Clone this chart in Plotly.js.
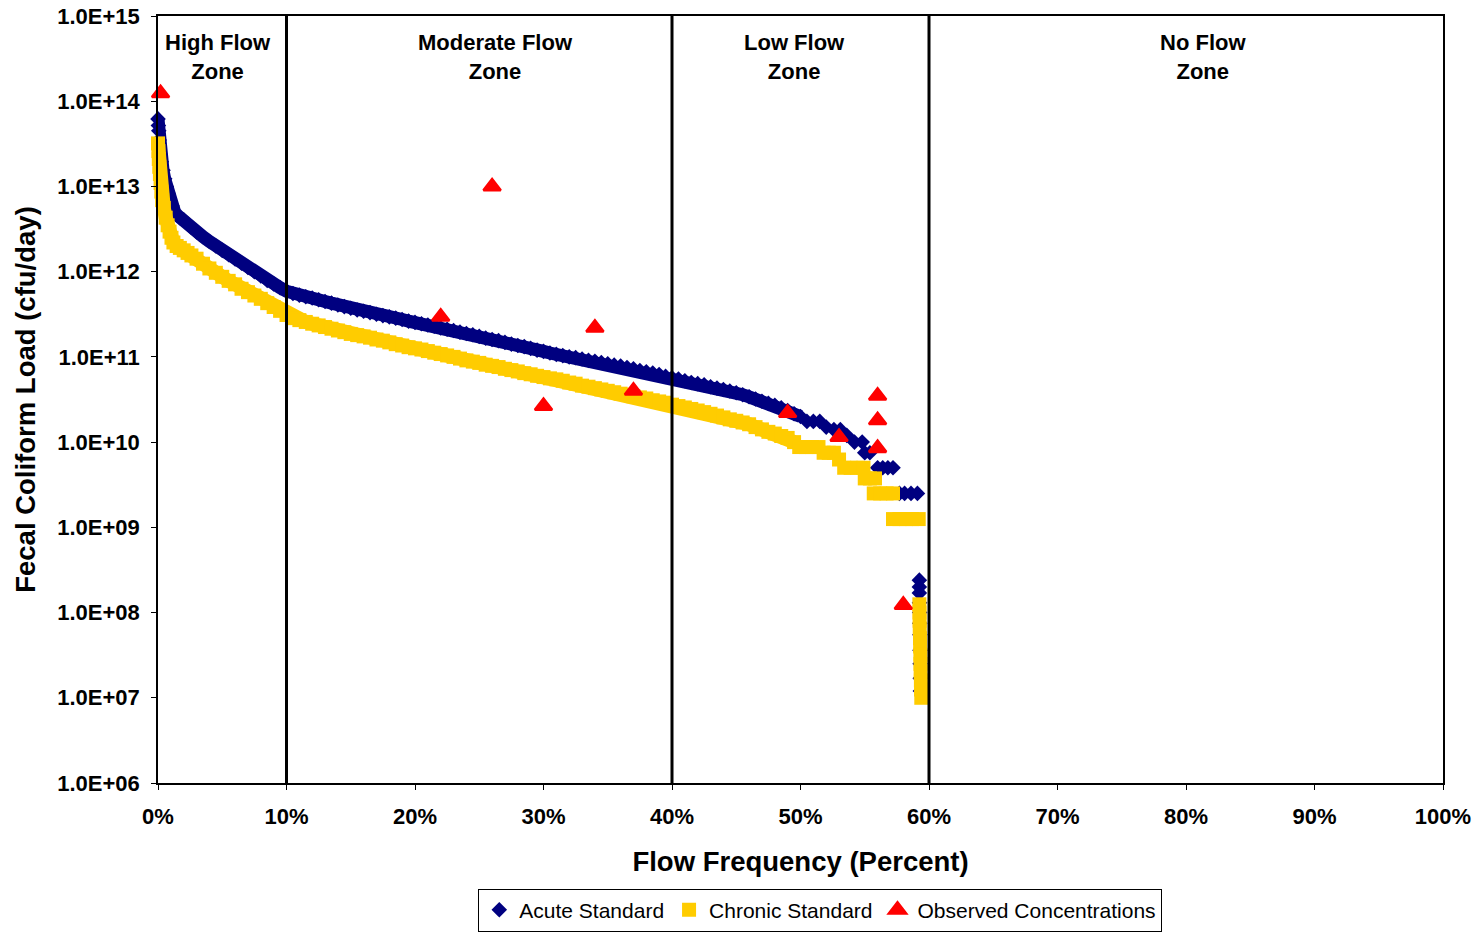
<!DOCTYPE html>
<html>
<head>
<meta charset="utf-8">
<script src="https://cdn.plot.ly/plotly-3.0.1.min.js"></script>
<style>
  html, body { margin: 0; padding: 0; background: #ffffff; }
  #chart { width: 1478px; height: 933px; }
</style>
</head>
<body>
<div id="chart"></div>
<script>
// ---- Data ----
// Flow frequency (percent) and fecal coliform load (cfu/day)
var acuteX = [0, 0.03, 0.06, 0.09, 0.13, 0.26, 0.39, 0.52, 0.65, 0.78, 0.9, 1.1, 1.3, 1.5, 1.7, 2.0, 2.3, 2.6,
  3.0, 3.5, 4.0, 4.5, 5.0, 5.5, 6.0, 6.5, 7.0, 7.5, 8.0, 8.5, 9.0, 9.5, 10.0, 10.5, 11.0, 11.5, 12.0, 12.5,
  13.0, 13.5, 14.0, 14.5, 15.0, 15.5, 16.0, 16.5, 17.0, 17.5, 18.0, 18.5, 19.0, 19.5, 20.0, 20.5, 21.0, 21.5,
  22.0, 22.5, 23.0, 23.5, 24.0, 24.5, 25.0, 25.5, 26.0, 26.5, 27.0, 27.5, 28.0, 28.5, 29.0, 29.5, 30.0, 30.5,
  31.0, 31.5, 32.0, 32.5, 33.0, 33.5, 34.0, 34.5, 35.0, 35.5, 36.0, 36.5, 37.0, 37.5, 38.0, 38.5, 39.0, 39.5,
  40.0, 40.5, 41.0, 41.5, 42.0, 42.5, 43.0, 43.5, 44.0, 44.5, 45.0, 45.5, 46.0, 46.5, 47.0, 47.5, 48.0, 48.5,
  49.0, 49.5, 50.0, 50.5, 51.0, 51.5, 52.0, 52.6, 53.1, 53.6, 54.2, 54.8, 55.0, 55.4, 56.0, 56.4, 56.8, 57.2,
  57.7, 58.1, 58.6, 59.1,
  59.25, 59.25, 59.25, 59.26, 59.27, 59.28, 59.29, 59.3, 59.31, 59.32, 59.33];
var acuteLoad = [6.2e13, 5.2e13, 4.5e13, 3.5e13, 2.45e13, 1.95e13, 1.55e13, 1.23e13, 1.0e13, 8.3e12, 6.9e12, 5.9e12, 5.0e12, 4.6e12, 4.3e12, 4.05e12, 3.65e12, 3.3e12,
  2.92e12, 2.57e12, 2.26e12, 2.0e12, 1.78e12, 1.58e12, 1.41e12, 1.26e12, 1.12e12, 1.0e12, 8.9e11, 7.9e11, 7.2e11, 6.5e11, 5.9e11, 5.55e11, 5.3e11, 5.07e11, 4.9e11, 4.68e11,
  4.47e11, 4.27e11, 4.07e11, 3.89e11, 3.72e11, 3.55e11, 3.43e11, 3.31e11, 3.16e11, 3.05e11, 2.95e11, 2.85e11, 2.75e11, 2.63e11, 2.54e11, 2.45e11, 2.37e11, 2.29e11,
  2.19e11, 2.11e11, 2.04e11, 1.95e11, 1.88e11, 1.82e11, 1.74e11, 1.66e11, 1.6e11, 1.55e11, 1.48e11, 1.41e11, 1.36e11, 1.32e11, 1.26e11, 1.2e11, 1.16e11, 1.11e11,
  1.07e11, 1.035e11, 1.0e11, 9.8e10, 9.45e10, 9.1e10, 8.9e10, 8.6e10, 8.3e10, 8.0e10, 7.8e10, 7.5e10, 7.25e10, 6.9e10, 6.7e10, 6.45e10, 6.2e10, 5.9e10,
  5.7e10, 5.5e10, 5.25e10, 5.0e10, 4.85e10, 4.7e10, 4.47e10, 4.3e10, 4.15e10, 3.98e10, 3.8e10, 3.6e10, 3.4e10, 3.2e10, 3.02e10, 2.85e10, 2.7e10, 2.52e10,
  2.35e10, 2.15e10, 2.0e10, 1.75e10, 1.75e10, 1.75e10, 1.5e10, 1.4e10, 1.4e10, 1.2e10, 1.0e10, 1.0e10, 7.5e9, 7.5e9, 5.0e9, 5.0e9, 5.0e9, 5.0e9,
  2.5e9, 2.5e9, 2.5e9, 2.5e9,
  2.4e8, 2.0e8, 1.7e8, 1.3e8, 1.0e8, 7.5e7, 5.5e7, 3.6e7, 2.5e7, 1.7e7, 1.2e7];

var chronicX = [0, 0.03, 0.06, 0.1, 0.15, 0.2, 0.26, 0.32, 0.45, 0.6, 0.75, 0.9, 1.05, 1.2, 1.45, 1.7, 2.0, 2.3, 2.6,
  3.0, 3.5, 4.0, 4.5, 5.0, 5.5, 6.0, 6.5, 7.0, 7.5, 8.0, 8.5, 9.0, 9.5, 10.0, 10.5, 11.0, 11.5, 12.0, 12.5,
  13.0, 13.5, 14.0, 14.5, 15.0, 15.5, 16.0, 16.5, 17.0, 17.5, 18.0, 18.5, 19.0, 19.5, 20.0, 20.5, 21.0, 21.5,
  22.0, 22.5, 23.0, 23.5, 24.0, 24.5, 25.0, 25.5, 26.0, 26.5, 27.0, 27.5, 28.0, 28.5, 29.0, 29.5, 30.0, 30.5,
  31.0, 31.5, 32.0, 32.5, 33.0, 33.5, 34.0, 34.5, 35.0, 35.5, 36.0, 36.5, 37.0, 37.5, 38.0, 38.5, 39.0, 39.5,
  40.0, 40.5, 41.0, 41.5, 42.0, 42.5, 43.0, 43.5, 44.0, 44.5, 45.0, 45.5, 46.0, 46.5, 47.0, 47.5, 48.0, 48.5,
  49.0, 49.5, 49.9, 50.4, 50.9, 51.4, 51.8, 52.2, 52.6, 53.0, 53.4, 53.9, 54.4, 54.9, 55.0, 55.4, 55.8,
  55.7, 56.2, 56.7, 57.2, 57.2, 57.7, 58.2, 58.7, 59.2,
  59.25, 59.26, 59.27, 59.28, 59.3, 59.31, 59.33, 59.34, 59.35, 59.37, 59.38, 59.4];
var chronicLoad = [3.2e13, 2.6e13, 2.1e13, 1.7e13, 1.4e13, 1.1e13, 8.7e12, 6.9e12, 5.6e12, 4.3e12, 3.5e12, 2.95e12, 2.5e12, 2.2e12, 2.0e12, 1.9e12, 1.78e12, 1.66e12, 1.55e12,
  1.42e12, 1.24e12, 1.09e12, 9.7e11, 8.7e11, 7.8e11, 7.1e11, 6.3e11, 5.75e11, 5.25e11, 4.8e11, 4.27e11, 3.85e11, 3.47e11, 3.1e11, 2.85e11, 2.7e11, 2.57e11, 2.45e11, 2.34e11,
  2.24e11, 2.14e11, 2.04e11, 1.95e11, 1.86e11, 1.8e11, 1.74e11, 1.68e11, 1.6e11, 1.55e11, 1.48e11, 1.41e11, 1.36e11, 1.3e11, 1.26e11, 1.22e11, 1.17e11, 1.12e11,
  1.08e11, 1.04e11, 1.0e11, 9.55e10, 9.1e10, 8.8e10, 8.5e10, 8.1e10, 7.85e10, 7.6e10, 7.25e10, 7.0e10, 6.75e10, 6.45e10, 6.25e10, 6.0e10, 5.8e10, 5.6e10,
  5.45e10, 5.25e10, 5.0e10, 4.85e10, 4.6e10, 4.47e10, 4.3e10, 4.15e10, 4.0e10, 3.85e10, 3.7e10, 3.6e10, 3.45e10, 3.35e10, 3.25e10, 3.1e10, 3.0e10, 2.9e10,
  2.75e10, 2.65e10, 2.55e10, 2.45e10, 2.35e10, 2.25e10, 2.15e10, 2.05e10, 1.95e10, 1.85e10, 1.78e10, 1.7e10, 1.62e10, 1.5e10, 1.41e10, 1.32e10, 1.26e10, 1.18e10,
  1.12e10, 1.0e10, 8.75e9, 8.75e9, 8.75e9, 8.75e9, 7.5e9, 7.5e9, 7.5e9, 6.25e9, 5.0e9, 5.0e9, 5.0e9, 5.0e9, 3.75e9, 3.75e9, 3.75e9,
  2.5e9, 2.5e9, 2.5e9, 2.5e9, 1.25e9, 1.25e9, 1.25e9, 1.25e9, 1.25e9,
  1.25e8, 1.0e8, 8.0e7, 6.5e7, 5.0e7, 4.0e7, 3.2e7, 2.5e7, 2.0e7, 1.6e7, 1.25e7, 1.0e7];

var observedX = [0.2, 22.0, 26.0, 30.0, 34.0, 37.0, 49.0, 53.0, 56.0, 56.0, 56.0, 58.0];
var observedLoad = [1.24e14, 2.95e11, 1.0e13, 2.65e10, 2.2e11, 4.0e10, 2.2e10, 1.15e10, 3.5e10, 1.8e10, 8.5e9, 1.23e8];

var seriesNames = ['Acute Standard', 'Chronic Standard', 'Observed Concentrations'];

var zoneBounds = [10, 40, 60];
var zoneLabels = ['High Flow<br>Zone', 'Moderate Flow<br>Zone', 'Low Flow<br>Zone', 'No Flow<br>Zone'];
var zoneLabelX = [4.7, 26.3, 49.5, 81.3];

var xTickVals = [0, 10, 20, 30, 40, 50, 60, 70, 80, 90, 100];
var xTickText = ['0%', '10%', '20%', '30%', '40%', '50%', '60%', '70%', '80%', '90%', '100%'];
var yTickVals = [1e6, 1e7, 1e8, 1e9, 1e10, 1e11, 1e12, 1e13, 1e14, 1e15];
var yTickText = ['1.0E+06', '1.0E+07', '1.0E+08', '1.0E+09', '1.0E+10', '1.0E+11', '1.0E+12', '1.0E+13', '1.0E+14', '1.0E+15'];

// ---- Chart ----
var FONT = '"Liberation Sans", Arial, sans-serif';
var NAVY = '#000080', GOLD = '#FFCC00', RED = '#FF0000';

// The dense marker band of the original is continuous along the smooth
// (non-stepped) part of each curve; a thick line through the same points fills it.
function smoothCount(xs, limit) {
  var n = 0;
  while (n < xs.length && xs[n] <= limit) n++;
  return n;
}
var nA = smoothCount(acuteX, 50.0);
var nC = smoothCount(chronicX, 49.5);

var traces = [
  {
    x: acuteX.slice(0, nA), y: acuteLoad.slice(0, nA), type: 'scatter', mode: 'lines',
    showlegend: false, hoverinfo: 'skip', cliponaxis: false,
    line: { color: NAVY, width: 13 }
  },
  {
    x: acuteX, y: acuteLoad, name: seriesNames[0], type: 'scatter', mode: 'markers',
    cliponaxis: false,
    marker: { symbol: 'diamond', size: 12, color: NAVY, line: { width: 0 } }
  },
  {
    x: chronicX.slice(0, nC), y: chronicLoad.slice(0, nC), type: 'scatter', mode: 'lines',
    showlegend: false, hoverinfo: 'skip', cliponaxis: false,
    line: { color: GOLD, width: 14 }
  },
  {
    x: chronicX, y: chronicLoad, name: seriesNames[1], type: 'scatter', mode: 'markers',
    cliponaxis: false,
    marker: { symbol: 'square', size: 14, color: GOLD, line: { width: 0 } }
  },
  {
    x: observedX, y: observedLoad, name: seriesNames[2], type: 'scatter', mode: 'markers',
    cliponaxis: false,
    marker: { symbol: 'triangle-up', size: 15, color: RED, line: { width: 2.5, color: RED } }
  }
];

var shapes = zoneBounds.map(function (b) {
  return { type: 'line', xref: 'x', yref: 'paper', x0: b, x1: b, y0: 0, y1: 1,
           line: { color: '#000000', width: 3 }, layer: 'above' };
});

var annotations = zoneLabels.map(function (t, i) {
  return { text: t, x: zoneLabelX[i], xref: 'x', y: 0.946, yref: 'paper',
           showarrow: false, xanchor: 'center', yanchor: 'middle',
           font: { family: FONT, size: 22, color: '#000000', weight: 'bold' } };
});

var layout = {
  width: 1478, height: 933,
  margin: { l: 158, r: 35, t: 16, b: 150, autoexpand: false },
  paper_bgcolor: '#ffffff', plot_bgcolor: '#ffffff',
  font: { family: FONT, color: '#000000' },
  showlegend: true,
  legend: {
    orientation: 'h', x: 0.555, xref: 'container', xanchor: 'center',
    y: 0.0245, yref: 'container', yanchor: 'middle',
    bordercolor: '#000000', borderwidth: 1, bgcolor: '#ffffff',
    font: { family: FONT, size: 21, color: '#000000' },
    itemwidth: 30, tracegroupgap: 0
  },
  xaxis: {
    range: [0, 100], tickvals: xTickVals, ticktext: xTickText,
    showgrid: false, zeroline: false, automargin: false,
    showline: true, linecolor: '#000000', linewidth: 1.5, mirror: true,
    ticks: 'outside', ticklen: 5, tickcolor: '#000000', tickwidth: 1,
    tickfont: { family: FONT, size: 22, color: '#000000', weight: 'bold' },
    ticklabelstandoff: 8,
    title: { text: 'Flow Frequency (Percent)', standoff: 24,
             font: { family: FONT, size: 27.5, color: '#000000', weight: 'bold' } }
  },
  yaxis: {
    type: 'log', range: [6, 15], tickvals: yTickVals, ticktext: yTickText,
    showgrid: false, zeroline: false, automargin: false,
    showline: true, linecolor: '#000000', linewidth: 1.5, mirror: true,
    ticks: 'outside', ticklen: 5, tickcolor: '#000000', tickwidth: 1,
    tickfont: { family: FONT, size: 22, color: '#000000', weight: 'bold' },
    ticklabelstandoff: 7,
    title: { text: 'Fecal Coliform Load (cfu/day)', standoff: 14,
             font: { family: FONT, size: 27.5, color: '#000000', weight: 'bold' } }
  },
  shapes: shapes,
  annotations: annotations
};

Plotly.newPlot('chart', traces, layout, { displayModeBar: false, responsive: false });
</script>
</body>
</html>
